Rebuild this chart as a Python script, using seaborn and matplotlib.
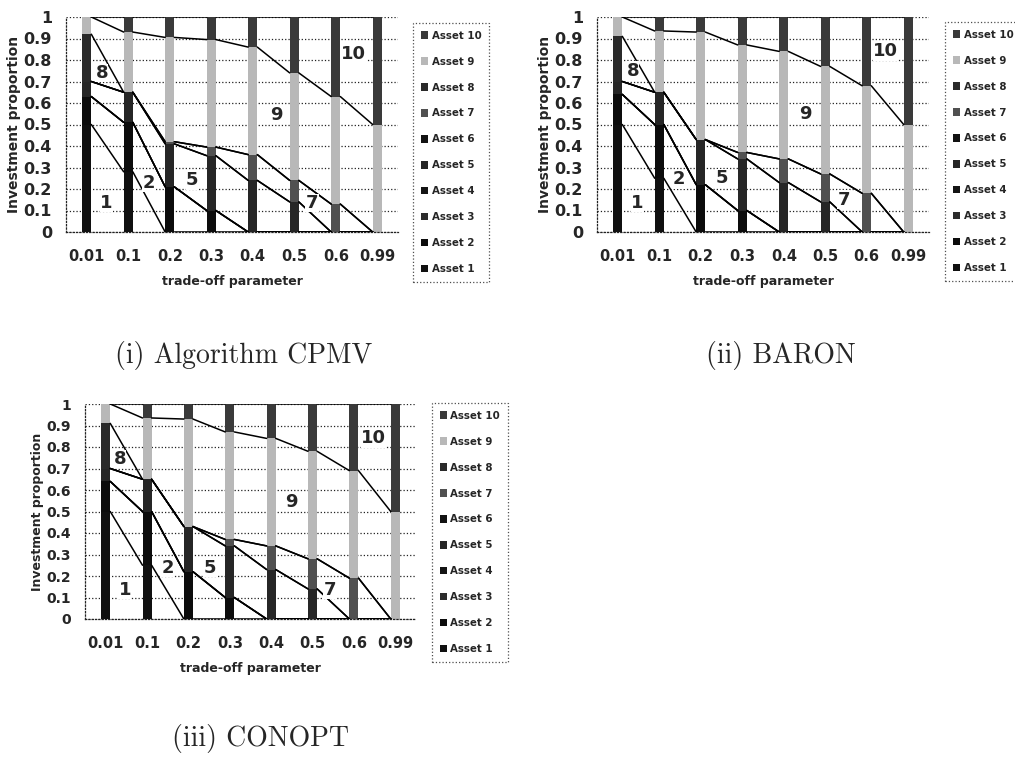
import numpy as np
import matplotlib
matplotlib.use('Agg')
import matplotlib.pyplot as plt
from matplotlib.patches import Patch
import seaborn as sns

sns.set_style('white')
plt.rcParams['font.family'] = ['DejaVu Sans']

# trade-off parameter categories and y ticks
params = ['0.01', '0.1', '0.2', '0.3', '0.4', '0.5', '0.6', '0.99']
yticks = [0, 0.1, 0.2, 0.3, 0.4, 0.5, 0.6, 0.7, 0.8, 0.9, 1.0]
ytick_labels = ['0', '0.1', '0.2', '0.3', '0.4', '0.5', '0.6', '0.7', '0.8', '0.9', '1']
asset_names = ['Asset %d' % i for i in range(1, 11)]
zeros = [0, 0, 0, 0, 0, 0, 0, 0]

# (i) Algorithm CPMV - investment proportion of each asset
cpmv_a1 = [0.50, 0.28, 0, 0, 0, 0, 0, 0]
cpmv_a2 = [0.13, 0.23, 0.21, 0.10, 0, 0, 0, 0]
cpmv_a5 = [0.07, 0.14, 0.20, 0.255, 0.24, 0.14, 0, 0]
cpmv_a7 = [0, 0, 0.01, 0.04, 0.12, 0.10, 0.13, 0]
cpmv_a8 = [0.22, 0, 0, 0, 0, 0, 0, 0]
cpmv_a9 = [0.08, 0.28, 0.485, 0.50, 0.50, 0.50, 0.50, 0.50]
cpmv_a10 = [0, 0.07, 0.095, 0.105, 0.14, 0.26, 0.37, 0.50]

# (ii) BARON
baron_a1 = [0.50, 0.25, 0, 0, 0, 0, 0, 0]
baron_a2 = [0.14, 0.25, 0.22, 0.10, 0, 0, 0, 0]
baron_a5 = [0.06, 0.15, 0.21, 0.24, 0.23, 0.14, 0, 0]
baron_a7 = [0, 0, 0, 0.03, 0.11, 0.13, 0.18, 0]
baron_a8 = [0.21, 0, 0, 0, 0, 0, 0, 0]
baron_a9 = [0.09, 0.285, 0.50, 0.50, 0.50, 0.50, 0.50, 0.50]
baron_a10 = [0, 0.065, 0.07, 0.13, 0.16, 0.23, 0.32, 0.50]

# (iii) CONOPT
conopt_a1 = [0.50, 0.25, 0, 0, 0, 0, 0, 0]
conopt_a2 = [0.14, 0.25, 0.22, 0.10, 0, 0, 0, 0]
conopt_a5 = [0.06, 0.15, 0.21, 0.24, 0.23, 0.14, 0, 0]
conopt_a7 = [0, 0, 0, 0.03, 0.11, 0.14, 0.19, 0]
conopt_a8 = [0.21, 0, 0, 0, 0, 0, 0, 0]
conopt_a9 = [0.09, 0.285, 0.50, 0.50, 0.50, 0.50, 0.50, 0.50]
conopt_a10 = [0, 0.065, 0.07, 0.13, 0.16, 0.22, 0.31, 0.50]

# grey shades of the scanned figure
asset_colors = ['#101010', '#0c0c0c', '#2c2c2c', '#141414', '#262626',
                '#121212', '#505050', '#2a2a2a', '#b8b8b8', '#3a3a3a']
bar_w = 0.22


def draw_panel(ax, series, labels, ytick_size, ylab_size):
    cum = np.cumsum(np.array(series), axis=0)
    # stacked bars: draw totals from the top series down
    for k in range(9, -1, -1):
        sns.barplot(x=params, y=cum[k], color=asset_colors[k], width=bar_w,
                    saturation=1, errorbar=None, linewidth=0, ax=ax, zorder=2)
    # series lines between neighbouring bars
    pos = np.arange(len(params))
    for k in range(10):
        xs, ys = [], []
        for i in range(len(params) - 1):
            xs += [pos[i] + bar_w / 2, pos[i + 1] - bar_w / 2, np.nan]
            ys += [cum[k][i], cum[k][i + 1], np.nan]
        ax.plot(xs, ys, color='black', lw=1.1, zorder=3)
    for txt, (x, y) in labels.items():
        ax.text(x, y, txt, fontsize=13, fontweight='bold', ha='center', va='center',
                zorder=4, bbox=dict(fc='white', ec='none', pad=0.3))
    ax.set_xlim(-0.5, len(params) - 0.5)
    ax.set_ylim(0, 1)
    ax.set_yticks(yticks)
    ax.set_yticklabels(ytick_labels)
    ax.yaxis.grid(True, linestyle=':', color='#222222', lw=0.9)
    ax.xaxis.grid(False)
    ax.set_axisbelow(True)
    ax.tick_params(axis='y', length=0, pad=10, labelsize=ytick_size)
    ax.tick_params(axis='x', length=0, pad=12, labelsize=10.5)
    for t in ax.get_xticklabels() + ax.get_yticklabels():
        t.set_fontweight('bold')
    ax.set_xlabel('trade-off parameter', fontsize=9, fontweight='bold', labelpad=8)
    ax.set_ylabel('Investment proportion', fontsize=ylab_size, fontweight='bold', labelpad=2)
    for s in ['top', 'right']:
        ax.spines[s].set_visible(False)
    for s in ['left', 'bottom']:
        ax.spines[s].set_linestyle(':')
        ax.spines[s].set_color('#222222')
        ax.spines[s].set_linewidth(0.9)


def add_legend(fig, x, y, size):
    handles = [Patch(facecolor=asset_colors[k], edgecolor='none', label=asset_names[k])
               for k in range(9, -1, -1)]
    leg = fig.legend(handles=handles, loc='upper left', bbox_to_anchor=(x / 1015, 1 - y / 758),
                     frameon=True, fancybox=False, fontsize=size, handlelength=0.75,
                     handleheight=0.75, handletextpad=0.3, labelspacing=1.55,
                     borderpad=0.75, borderaxespad=0)
    leg.get_frame().set_linestyle(':')
    leg.get_frame().set_edgecolor('#222222')
    leg.get_frame().set_linewidth(0.9)
    for t in leg.get_texts():
        t.set_fontweight('bold')


fig = plt.figure(figsize=(10.15, 7.58), dpi=100)
ax1 = fig.add_axes([66 / 1015, 1 - 232 / 758, 332 / 1015, 215 / 758])
ax2 = fig.add_axes([597 / 1015, 1 - 232 / 758, 332 / 1015, 215 / 758])
ax3 = fig.add_axes([85 / 1015, 1 - 619 / 758, 331 / 1015, 215 / 758])

draw_panel(ax1, [cpmv_a1, cpmv_a2, zeros, zeros, cpmv_a5, zeros, cpmv_a7, cpmv_a8, cpmv_a9, cpmv_a10],
           {'1': (0.48, 0.135), '2': (1.5, 0.23), '5': (2.54, 0.24), '7': (5.43, 0.135),
            '8': (0.36, 0.74), '9': (4.58, 0.545), '10': (6.43, 0.83)}, 11.5, 10)
draw_panel(ax2, [baron_a1, baron_a2, zeros, zeros, baron_a5, zeros, baron_a7, baron_a8, baron_a9, baron_a10],
           {'1': (0.47, 0.135), '2': (1.47, 0.245), '5': (2.52, 0.25), '7': (5.44, 0.15),
            '8': (0.36, 0.75), '9': (4.52, 0.55), '10': (6.45, 0.84)}, 11.5, 10)
draw_panel(ax3, [conopt_a1, conopt_a2, zeros, zeros, conopt_a5, zeros, conopt_a7, conopt_a8, conopt_a9, conopt_a10],
           {'1': (0.46, 0.135), '2': (1.5, 0.237), '5': (2.52, 0.237), '7': (5.42, 0.135),
            '8': (0.34, 0.744), '9': (4.5, 0.544), '10': (6.47, 0.84)}, 10, 9)

add_legend(fig, 413, 23, 7.4)
add_legend(fig, 945, 22, 7.4)
add_legend(fig, 432, 403, 7.4)

cap = dict(family='cmr10', fontsize=20, ha='center', va='baseline')
fig.text(244 / 1015, 1 - 363 / 758, '(i) Algorithm CPMV', **cap)
fig.text(781 / 1015, 1 - 363 / 758, '(ii) BARON', **cap)
fig.text(261 / 1015, 1 - 746 / 758, '(iii) CONOPT', **cap)

fig.savefig('out.png', dpi=100)
